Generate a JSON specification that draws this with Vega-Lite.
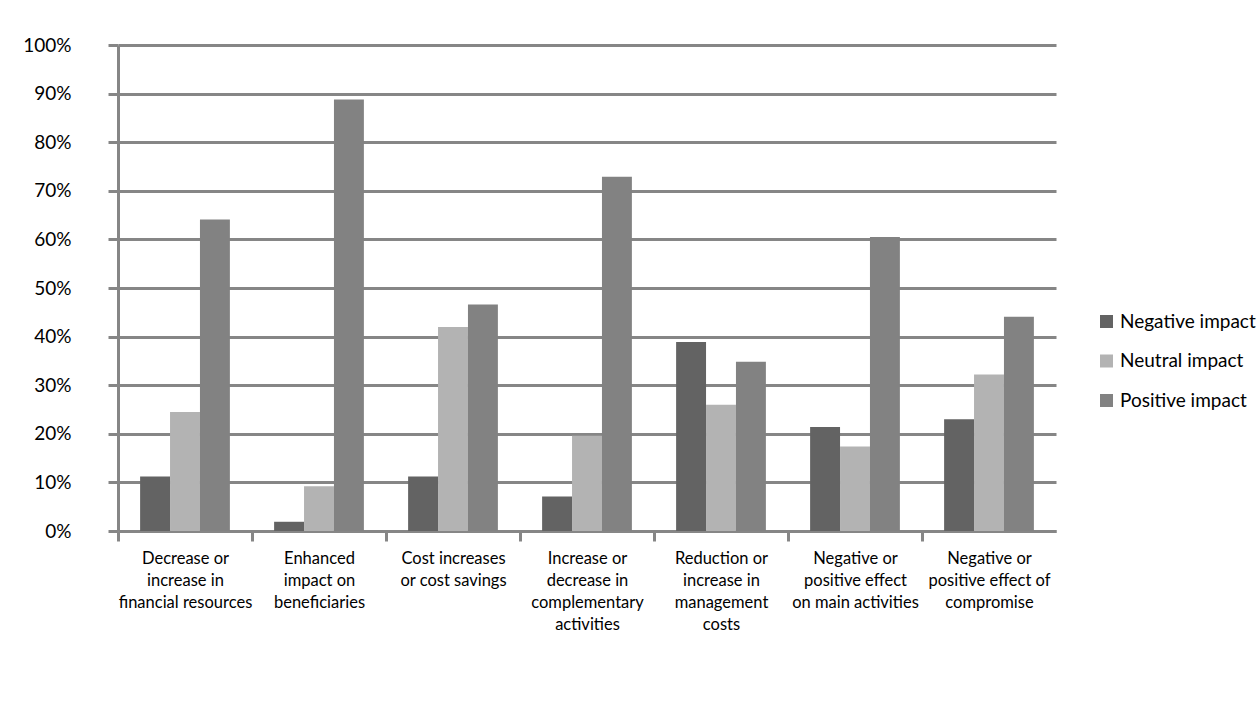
{
  "$schema": "https://vega.github.io/schema/vega-lite/v6.json",
  "autosize": "none",
  "width": 938,
  "height": 486,
  "padding": {"left": 118, "top": 45, "right": 203, "bottom": 174},
  "background": "white",
  "config": {
    "view": {"stroke": null},
    "font": "Lato",
    "axis": {"labelColor": "#000000", "labelFont": "Lato"}
  },
  "data": {
    "values": [
      {"category": "Decrease or increase in financial resources", "impact": "Negative impact", "value": 11.2},
      {"category": "Decrease or increase in financial resources", "impact": "Neutral impact", "value": 24.5},
      {"category": "Decrease or increase in financial resources", "impact": "Positive impact", "value": 64.1},
      {"category": "Enhanced impact on beneficiaries", "impact": "Negative impact", "value": 1.9},
      {"category": "Enhanced impact on beneficiaries", "impact": "Neutral impact", "value": 9.2},
      {"category": "Enhanced impact on beneficiaries", "impact": "Positive impact", "value": 88.8},
      {"category": "Cost increases or cost savings", "impact": "Negative impact", "value": 11.2},
      {"category": "Cost increases or cost savings", "impact": "Neutral impact", "value": 42.0},
      {"category": "Cost increases or cost savings", "impact": "Positive impact", "value": 46.6},
      {"category": "Increase or decrease in complementary activities", "impact": "Negative impact", "value": 7.1},
      {"category": "Increase or decrease in complementary activities", "impact": "Neutral impact", "value": 19.6},
      {"category": "Increase or decrease in complementary activities", "impact": "Positive impact", "value": 72.9},
      {"category": "Reduction or increase in management costs", "impact": "Negative impact", "value": 38.9},
      {"category": "Reduction or increase in management costs", "impact": "Neutral impact", "value": 26.0},
      {"category": "Reduction or increase in management costs", "impact": "Positive impact", "value": 34.8},
      {"category": "Negative or positive effect on main activities", "impact": "Negative impact", "value": 21.4},
      {"category": "Negative or positive effect on main activities", "impact": "Neutral impact", "value": 17.4},
      {"category": "Negative or positive effect on main activities", "impact": "Positive impact", "value": 60.5},
      {"category": "Negative or positive effect of compromise", "impact": "Negative impact", "value": 23.0},
      {"category": "Negative or positive effect of compromise", "impact": "Neutral impact", "value": 32.2},
      {"category": "Negative or positive effect of compromise", "impact": "Positive impact", "value": 44.1}
    ]
  },
  "mark": {"type": "bar"},
  "encoding": {
    "x": {
      "field": "category",
      "type": "nominal",
      "sort": null,
      "title": null,
      "scale": {"paddingInner": 0.33, "paddingOuter": 0.165},
      "axis": {
        "tickOffset": -67,
        "labelOffset": 67,
        "labelAngle": 0,
        "labelAlign": "center",
        "labelBaseline": "top",
        "labelFontSize": 16.5,
        "labelLineHeight": 22,
        "labelPadding": 9,
        "labelLimit": 200,
        "domainColor": "#868686",
        "domainWidth": 3,
        "tickColor": "#868686",
        "tickWidth": 3,
        "tickSize": 10,
        "grid": false,
        "labelExpr": "datum.value == 'Decrease or increase in financial resources' ? ['Decrease or', 'increase in', 'financial resources'] : datum.value == 'Enhanced impact on beneficiaries' ? ['Enhanced', 'impact on', 'beneficiaries'] : datum.value == 'Cost increases or cost savings' ? ['Cost increases', 'or cost savings'] : datum.value == 'Increase or decrease in complementary activities' ? ['Increase or', 'decrease in', 'complementary', 'activities'] : datum.value == 'Reduction or increase in management costs' ? ['Reduction or', 'increase in', 'management', 'costs'] : datum.value == 'Negative or positive effect on main activities' ? ['Negative or', 'positive effect', 'on main activities'] : datum.value == 'Negative or positive effect of compromise' ? ['Negative or', 'positive effect of', 'compromise'] : datum.value"
      }
    },
    "xOffset": {"field": "impact", "type": "nominal", "sort": ["Negative impact", "Neutral impact", "Positive impact"]},
    "y": {
      "field": "value",
      "type": "quantitative",
      "title": null,
      "scale": {"domain": [0, 100], "nice": false},
      "axis": {
        "values": [0, 10, 20, 30, 40, 50, 60, 70, 80, 90, 100],
        "labelExpr": "datum.value + '%'",
        "labelFontSize": 19,
        "labelPadding": 37,
        "tickSize": 10,
        "tickColor": "#868686",
        "tickWidth": 3,
        "domainColor": "#868686",
        "domainWidth": 3,
        "grid": true,
        "gridColor": "#868686",
        "gridWidth": 3,
        "gridOpacity": 1
      }
    },
    "color": {
      "field": "impact",
      "type": "nominal",
      "sort": ["Negative impact", "Neutral impact", "Positive impact"],
      "scale": {"domain": ["Negative impact", "Neutral impact", "Positive impact"], "range": ["#636363", "#b3b3b3", "#828282"]},
      "legend": {
        "title": null,
        "orient": "none",
        "legendX": 979,
        "legendY": 267,
        "padding": 0,
        "symbolType": "square",
        "symbolSize": 169,
        "symbolStrokeWidth": 0,
        "symbolOpacity": 1,
        "labelFontSize": 19,
        "labelFont": "Lato",
        "labelColor": "#000000",
        "labelOffset": 4,
        "rowPadding": 19.5,
        "labelLimit": 200
      }
    }
  }
}
